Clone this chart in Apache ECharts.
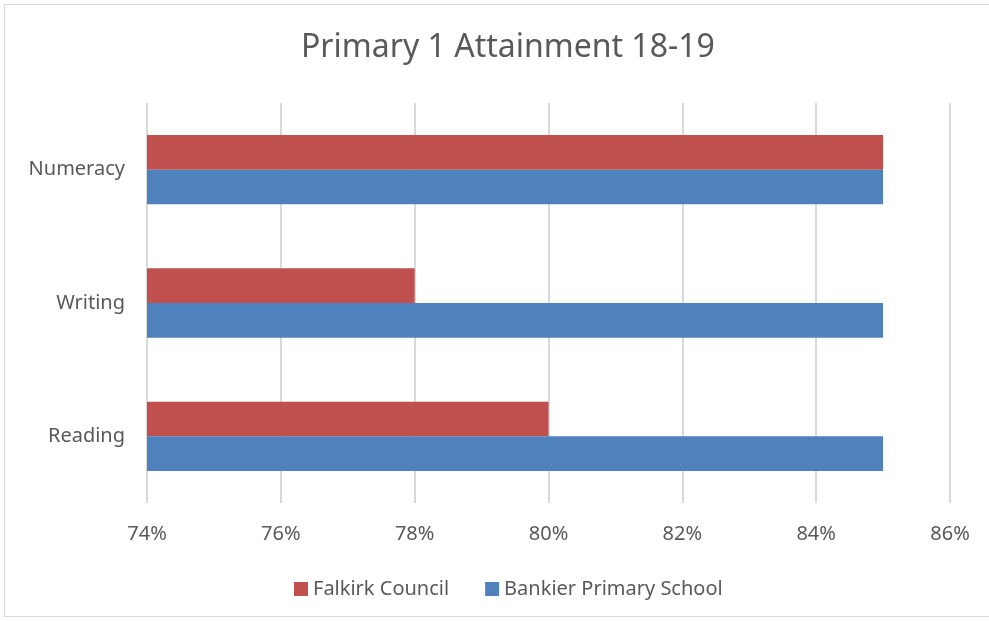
<!DOCTYPE html>
<html>
<head>
<meta charset="utf-8">
<script src="https://cdn.jsdelivr.net/npm/echarts@6/dist/echarts.min.js"></script>
<style>
  html, body { margin: 0; padding: 0; background: #fff; }
  #frame { position: absolute; left: 4px; top: 4px; width: 990px; height: 613px; border: 1px solid #d9d9d9; box-sizing: border-box; }
  #chart { position: absolute; left: 0; top: 0; width: 989px; height: 621px; }
</style>
</head>
<body>
<div id="frame"></div>
<div id="chart"></div>
<script>
// categories bottom -> top
var categories = ['Reading', 'Writing', 'Numeracy'];
var falkirkValues = [80, 78, 85];
var bankierValues = [85, 85, 85];
var seriesNames = ['Falkirk Council', 'Bankier Primary School'];

var textColor = '#595959';
var myChart = echarts.init(document.getElementById('chart'));
var option = {
  animation: false,
  title: {
    text: 'Primary 1 Attainment 18-19',
    left: 296,
    top: 27,
    textStyle: { color: textColor, fontSize: 32, fontWeight: 'normal', fontFamily: 'Noto Sans' }
  },
  legend: {
    data: seriesNames,
    bottom: 17,
    left: 289,
    itemWidth: 14,
    itemHeight: 14,
    itemGap: 36,
    icon: 'rect',
    textStyle: { color: textColor, fontSize: 20, fontFamily: 'Noto Sans' }
  },
  grid: { left: 147, right: 39, top: 103, bottom: 118 },
  xAxis: {
    type: 'value',
    min: 74,
    max: 86,
    interval: 2,
    axisLine: { show: false },
    axisTick: { show: false },
    axisLabel: {
      color: textColor, fontSize: 20, fontFamily: 'Noto Sans', margin: 21,
      formatter: function (v) { return v + '%'; }
    },
    splitLine: { lineStyle: { color: '#d9d9d9', width: 2 } }
  },
  yAxis: {
    type: 'category',
    data: categories,
    axisLine: { show: false },
    axisTick: { show: false },
    axisLabel: { color: textColor, fontSize: 20, fontFamily: 'Noto Sans', margin: 22 }
  },
  series: [
    {
      name: seriesNames[0],
      type: 'bar',
      data: falkirkValues,
      barGap: '0%',
      barCategoryGap: '48%',
      itemStyle: { color: '#c0504d' }
    },
    {
      name: seriesNames[1],
      type: 'bar',
      data: bankierValues,
      barGap: '0%',
      barCategoryGap: '48%',
      itemStyle: { color: '#4f81bd' }
    }
  ]
};
myChart.setOption(option);
</script>
</body>
</html>
